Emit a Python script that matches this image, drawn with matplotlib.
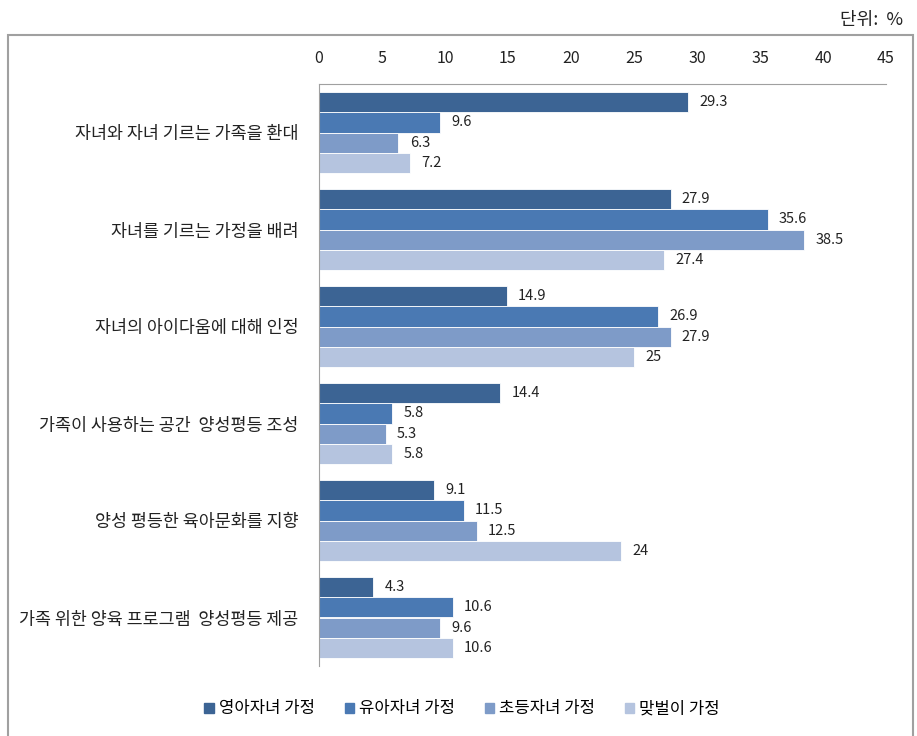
import matplotlib
matplotlib.use("Agg")
import matplotlib.pyplot as plt
from matplotlib.patches import Rectangle
import numpy as np

plt.rcParams['font.family'] = ['Noto Sans CJK KR', 'DejaVu Sans']

categories = ["자녀와 자녀 기르는 가족을 환대", "자녀를 기르는 가정을 배려", "자녀의 아이다움에 대해 인정",
              "가족이 사용하는 공간  양성평등 조성", "양성 평등한 육아문화를 지향", "가족 위한 양육 프로그램  양성평등 제공"]
series_names = ["영아자녀 가정", "유아자녀 가정", "초등자녀 가정", "맞벌이 가정"]
infant = [29.3, 27.9, 14.9, 14.4, 9.1, 4.3]
toddler = [9.6, 35.6, 26.9, 5.8, 11.5, 10.6]
elementary = [6.3, 38.5, 27.9, 5.3, 12.5, 9.6]
dual = [7.2, 27.4, 25, 5.8, 24, 10.6]
labels = [["29.3", "27.9", "14.9", "14.4", "9.1", "4.3"],
          ["9.6", "35.6", "26.9", "5.8", "11.5", "10.6"],
          ["6.3", "38.5", "27.9", "5.3", "12.5", "9.6"],
          ["7.2", "27.4", "25", "5.8", "24", "10.6"]]
colors = ["#3C6494", "#4A79B3", "#7E9BC8", "#B5C4DF"]

fig = plt.figure(figsize=(9.17, 7.36), dpi=100)
ax = fig.add_axes([319/917, 1-666/736, (886-319)/917, (666-84)/736])

# outer frame
fig.patches.append(Rectangle((8/917, -0.01), (913-8)/917, 1-35/736+0.01, transform=fig.transFigure,
                             fill=False, edgecolor="#A0A0A0", linewidth=1.5))

data = [infant, toddler, elementary, dual]
n = len(categories)
bh = 0.21
y0 = np.arange(n)
for i, (vals, col) in enumerate(zip(data, colors)):
    ys = y0 - 1.5*bh + i*bh
    ax.barh(ys, vals, height=bh, color=col, edgecolor="white", linewidth=0.6, label=series_names[i])
    for y, v, t in zip(ys, vals, labels[i]):
        ax.text(v + 0.9, y, t, va="center", ha="left", fontsize=10.5, color="#222222")

ax.set_xlim(0, 45)
ax.set_ylim(n - 0.5, -0.5)
ax.set_xticks(np.arange(0, 46, 5))
ax.xaxis.tick_top()
ax.tick_params(axis="x", length=0, labelsize=11.5, pad=12, colors="#222222")
ax.set_yticks(y0)
ax.set_yticklabels(categories, fontsize=12.5)
ax.tick_params(axis="y", length=0, pad=15, colors="#222222")
for s in ["right", "bottom"]:
    ax.spines[s].set_visible(False)
ax.spines["top"].set_color("#A0A0A0")
ax.spines["left"].set_color("#A0A0A0")

fig.text(903/917, 1-20/736, "단위:  %", ha="right", va="center", fontsize=13, color="#222222")

handles = [Rectangle((0, 0), 1, 1, color=c) for c in colors]
fig.legend(handles, series_names, loc="center", bbox_to_anchor=(462/917, 1-709/736), ncol=4,
           frameon=False, fontsize=12, handlelength=0.55, handleheight=0.55, handletextpad=0.3,
           columnspacing=1.8)

fig.savefig("out.png", dpi=100)
